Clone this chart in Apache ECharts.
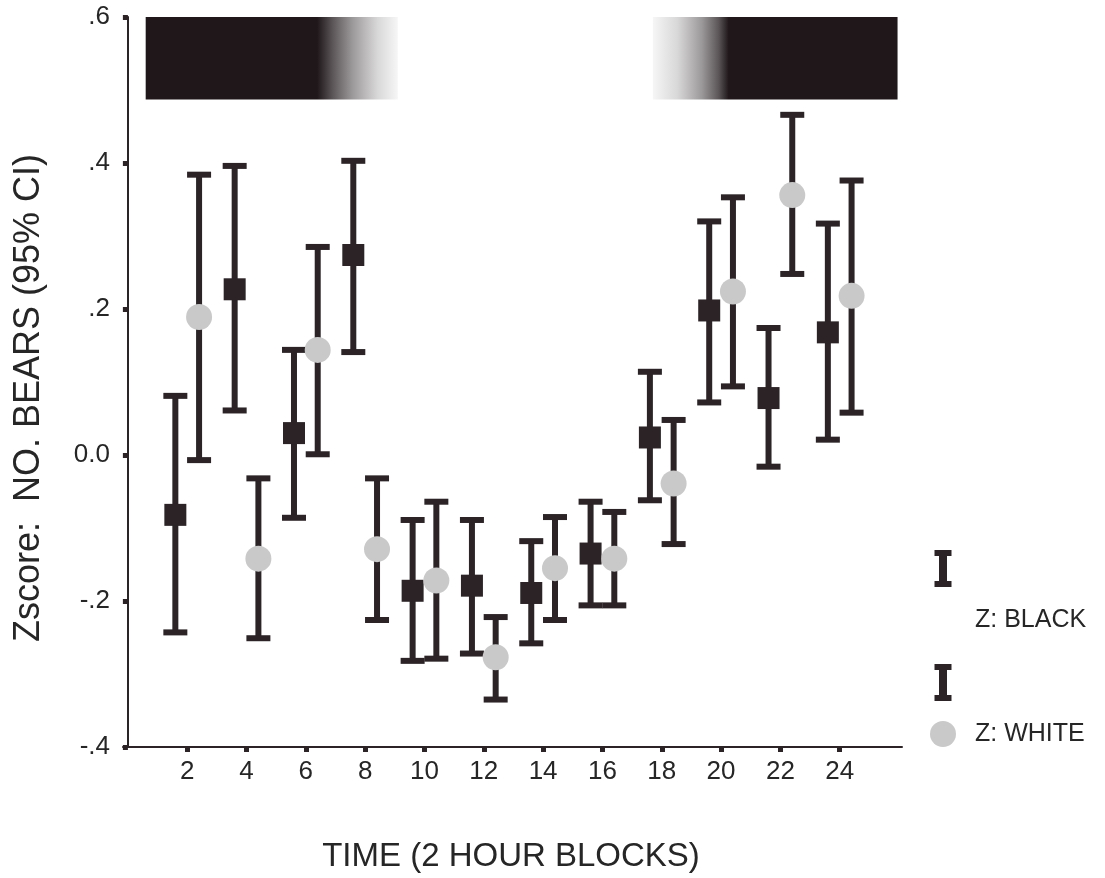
<!DOCTYPE html>
<html>
<head>
<meta charset="utf-8">
<script src="https://cdn.jsdelivr.net/npm/echarts@6/dist/echarts.min.js"></script>
<style>
  html, body { margin: 0; padding: 0; background: #ffffff; }
  #chart { width: 1105px; height: 878px; }
</style>
</head>
<body>
<div id="chart"></div>
<script>
// ---- data ----
const hours = [2, 4, 6, 8, 10, 12, 14, 16, 18, 20, 22, 24];

const blackMean = [-0.082, 0.227, 0.030, 0.274, -0.186, -0.179, -0.189, -0.135, 0.024, 0.198, 0.078, 0.168];
const blackLow  = [-0.243, 0.061, -0.086, 0.141, -0.282, -0.272, -0.258, -0.206, -0.062, 0.072, -0.016, 0.021];
const blackHigh = [0.081, 0.396, 0.144, 0.403, -0.089, -0.089, -0.118, -0.064, 0.114, 0.320, 0.174, 0.317];

const whiteMean = [0.189, -0.142, 0.144, -0.129, -0.172, -0.277, -0.155, -0.142, -0.039, 0.224, 0.356, 0.218];
const whiteLow  = [-0.007, -0.251, 0.001, -0.226, -0.279, -0.335, -0.226, -0.206, -0.122, 0.094, 0.248, 0.058];
const whiteHigh = [0.384, -0.032, 0.285, -0.032, -0.064, -0.222, -0.085, -0.078, 0.048, 0.353, 0.466, 0.376];

const yTicks = [-0.4, -0.2, 0.0, 0.2, 0.4, 0.6];
const yTickLabels = ['-.4', '-.2', '0.0', '.2', '.4', '.6'];

// dark (night) bands along the time axis, shown at the top of the plot
const darkBands = [[0.6, 9.1], [17.7, 25.95]];
const bandRange = [0.487, 0.6];

const seriesNames = ['Z: BLACK', 'Z: WHITE'];

// ---- drawing ----
const INK = '#2b2326';
const GREY = '#c9c9c9';
const OFFSET = 0.4;
const FONT = '"Liberation Sans", Arial, Helvetica, sans-serif';

const chart = echarts.init(document.getElementById('chart'), null, { renderer: 'canvas' });

function errData(lows, highs, shift) {
  return hours.map((h, i) => [h + shift, lows[i], highs[i]]);
}
function ptData(means, shift) {
  return hours.map((h, i) => [h + shift, means[i]]);
}

function renderErr(params, api) {
  const x = api.value(0);
  const lo = api.coord([x, api.value(1)]);
  const hi = api.coord([x, api.value(2)]);
  const cx = lo[0];
  const stemW = 6, capW = 24, capH = 6;
  return {
    type: 'group',
    children: [
      { type: 'rect', shape: { x: cx - stemW / 2, y: hi[1], width: stemW, height: lo[1] - hi[1] }, style: { fill: INK } },
      { type: 'rect', shape: { x: cx - capW / 2, y: hi[1] - capH / 2, width: capW, height: capH }, style: { fill: INK } },
      { type: 'rect', shape: { x: cx - capW / 2, y: lo[1] - capH / 2, width: capW, height: capH }, style: { fill: INK } }
    ]
  };
}

const dark = '#1f1719';
const leftStops = [
  { offset: 0, color: dark }, { offset: 0.68, color: dark },
  { offset: 0.74, color: '#5a5456' }, { offset: 0.82, color: '#9c999a' },
  { offset: 0.92, color: '#d9d8d8' }, { offset: 1, color: '#f6f6f6' }
];
const rightStops = [
  { offset: 0, color: '#f6f6f6' }, { offset: 0.1, color: '#d9d8d8' },
  { offset: 0.2, color: '#9c999a' }, { offset: 0.27, color: '#5a5456' },
  { offset: 0.31, color: dark }, { offset: 1, color: dark }
];

function renderBand(params, api) {
  const p0 = api.coord([api.value(0), api.value(3)]);
  const p1 = api.coord([api.value(1), api.value(2)]);
  const stops = params.dataIndex === 0 ? leftStops : rightStops;
  return {
    type: 'rect',
    shape: { x: p0[0], y: p0[1], width: p1[0] - p0[0], height: p1[1] - p0[1] },
    style: { fill: new echarts.graphic.LinearGradient(0, 0, 1, 0, stops) }
  };
}

function ibeam(cx, top) {
  return [
    { type: 'rect', shape: { x: cx - 8.5, y: top, width: 17, height: 6 }, style: { fill: INK } },
    { type: 'rect', shape: { x: cx - 4, y: top, width: 8, height: 37 }, style: { fill: INK } },
    { type: 'rect', shape: { x: cx - 8.5, y: top + 31, width: 17, height: 6 }, style: { fill: INK } }
  ];
}

const option = {
  backgroundColor: '#ffffff',
  animation: false,
  grid: { left: 123, right: 203, top: 17, bottom: 131, containLabel: false },
  xAxis: {
    type: 'value',
    min: -0.165,
    max: 26.1,
    splitLine: { show: false },
    axisLine: { show: true, onZero: false, lineStyle: { color: INK, width: 2 } },
    axisTick: { show: true, customValues: hours, length: 5, lineStyle: { color: INK, width: 5 } },
    axisLabel: { customValues: hours, fontSize: 26, color: '#262626', fontFamily: FONT, margin: 12 }
  },
  yAxis: {
    type: 'value',
    min: -0.4,
    max: 0.6,
    interval: 0.2,
    splitLine: { show: false },
    axisLine: { show: true, lineStyle: { color: INK, width: 2 } },
    axisTick: { show: true, length: 5, lineStyle: { color: INK, width: 5 } },
    axisLabel: {
      fontSize: 26, color: '#262626', fontFamily: FONT, margin: 13,
      formatter: function (v) {
        const i = yTicks.findIndex(t => Math.abs(t - v) < 1e-9);
        return i >= 0 ? yTickLabels[i] : '';
      }
    }
  },
  series: [
    {
      type: 'custom', name: 'night', silent: true, z: 1,
      renderItem: renderBand,
      data: darkBands.map(b => [b[0], b[1], bandRange[0], bandRange[1]]),
      encode: { x: [0, 1], y: [2, 3] }
    },
    {
      type: 'custom', name: seriesNames[0] + ' CI', z: 2,
      renderItem: renderErr,
      data: errData(blackLow, blackHigh, -OFFSET),
      encode: { x: 0, y: [1, 2] }
    },
    {
      type: 'custom', name: seriesNames[1] + ' CI', z: 2,
      renderItem: renderErr,
      data: errData(whiteLow, whiteHigh, OFFSET),
      encode: { x: 0, y: [1, 2] }
    },
    {
      type: 'scatter', name: seriesNames[0], z: 3,
      symbol: 'rect', symbolSize: 22,
      itemStyle: { color: INK, opacity: 1 },
      data: ptData(blackMean, -OFFSET)
    },
    {
      type: 'scatter', name: seriesNames[1], z: 3,
      symbol: 'circle', symbolSize: 26,
      itemStyle: { color: GREY, opacity: 1 },
      data: ptData(whiteMean, OFFSET)
    }
  ],
  graphic: [
    {
      type: 'text', x: 29, y: 398, rotation: Math.PI / 2,
      style: { text: 'Zscore:  NO. BEARS (95% CI)', font: '36px ' + FONT, fill: '#262626', align: 'center', verticalAlign: 'middle' }
    },
    {
      type: 'text', x: 511, y: 857,
      style: { text: 'TIME (2 HOUR BLOCKS)', font: '33px ' + FONT, fill: '#262626', align: 'center', verticalAlign: 'middle' }
    },
    { type: 'group', children: ibeam(943, 550) },
    {
      type: 'text', x: 975, y: 620,
      style: { text: seriesNames[0], font: '25px ' + FONT, fill: '#262626', align: 'left', verticalAlign: 'middle' }
    },
    { type: 'group', children: ibeam(943, 664) },
    { type: 'circle', shape: { cx: 943, cy: 734, r: 13 }, style: { fill: GREY } },
    {
      type: 'text', x: 975, y: 734,
      style: { text: seriesNames[1], font: '25px ' + FONT, fill: '#262626', align: 'left', verticalAlign: 'middle' }
    }
  ]
};

chart.setOption(option);
</script>
</body>
</html>
